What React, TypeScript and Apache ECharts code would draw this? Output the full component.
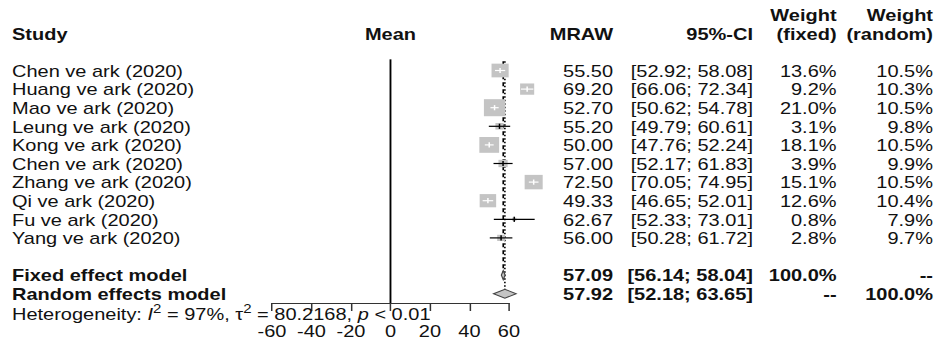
import React, { useEffect, useRef } from 'react';
import * as echarts from 'echarts';

// ---------------- data ----------------
const studies = [
  'Chen ve ark (2020)',
  'Huang ve ark (2020)',
  'Mao ve ark (2020)',
  'Leung ve ark (2020)',
  'Kong ve ark (2020)',
  'Chen ve ark (2020)',
  'Zhang ve ark (2020)',
  'Qi ve ark (2020)',
  'Fu ve ark (2020)',
  'Yang ve ark (2020)',
];
const means = [55.5, 69.2, 52.7, 55.2, 50.0, 57.0, 72.5, 49.33, 62.67, 56.0];
const lowerCI = [52.92, 66.06, 50.62, 49.79, 47.76, 52.17, 70.05, 46.65, 52.33, 50.28];
const upperCI = [58.08, 72.34, 54.78, 60.61, 52.24, 61.83, 74.95, 52.01, 73.01, 61.72];
const weightFixed = [13.6, 9.2, 21.0, 3.1, 18.1, 3.9, 15.1, 12.6, 0.8, 2.8];
const weightRandom = [10.5, 10.3, 10.5, 9.8, 10.5, 9.9, 10.5, 10.4, 7.9, 9.7];

const pooledLabels = ['Fixed effect model', 'Random effects model'];
const pooledMeans = [57.09, 57.92];
const pooledLower = [56.14, 52.18];
const pooledUpper = [58.04, 63.65];
const pooledWeightFixed = ['100.0%', '--'];
const pooledWeightRandom = ['--', '100.0%'];

const xTicks = [-60, -40, -20, 0, 20, 40, 60];

const heterogeneityI2 = 97;
const heterogeneityTau2 = 80.2168;
const heterogeneityP = '< 0.01';

// ---------------- layout ----------------
const BASE_W = 754;
const H = 345;
const SCALE = 942 / BASE_W;
const FONT = '"Liberation Sans", Arial, sans-serif';
const TXT = '#111';
const BOX = '#c4c4c4';

const studyRows = studies.map((_, i) => i);
const pooledRows = [11, 12];

const colX = { study: 9.6, mraw: 490.7, ci: 602.7, wf: 669.6, wr: 746.8 };

type TextItem = {
  row: number;
  text: string;
  x?: number;
  xCoord?: number;
  align: 'left' | 'right' | 'center';
  bold?: boolean;
  rich?: boolean;
};

const textItems: TextItem[] = [];
// headers
textItems.push({ row: -3, text: 'Weight', x: colX.wf, align: 'right', bold: true });
textItems.push({ row: -3, text: 'Weight', x: colX.wr, align: 'right', bold: true });
textItems.push({ row: -2, text: 'Study', x: colX.study, align: 'left', bold: true });
textItems.push({ row: -2, text: 'Mean', xCoord: 0, align: 'center', bold: true });
textItems.push({ row: -2, text: 'MRAW', x: colX.mraw, align: 'right', bold: true });
textItems.push({ row: -2, text: '95%-CI', x: colX.ci, align: 'right', bold: true });
textItems.push({ row: -2, text: '(fixed)', x: colX.wf, align: 'right', bold: true });
textItems.push({ row: -2, text: '(random)', x: colX.wr, align: 'right', bold: true });
// studies
studies.forEach((s, i) => {
  const r = studyRows[i];
  textItems.push({ row: r, text: s, x: colX.study, align: 'left' });
  textItems.push({ row: r, text: means[i].toFixed(2), x: colX.mraw, align: 'right' });
  textItems.push({
    row: r,
    text: `[${lowerCI[i].toFixed(2)}; ${upperCI[i].toFixed(2)}]`,
    x: colX.ci,
    align: 'right',
  });
  textItems.push({ row: r, text: weightFixed[i].toFixed(1) + '%', x: colX.wf, align: 'right' });
  textItems.push({ row: r, text: weightRandom[i].toFixed(1) + '%', x: colX.wr, align: 'right' });
});
// pooled
pooledLabels.forEach((s, i) => {
  const r = pooledRows[i];
  textItems.push({ row: r, text: s, x: colX.study, align: 'left', bold: true });
  textItems.push({ row: r, text: pooledMeans[i].toFixed(2), x: colX.mraw, align: 'right', bold: true });
  textItems.push({
    row: r,
    text: `[${pooledLower[i].toFixed(2)}; ${pooledUpper[i].toFixed(2)}]`,
    x: colX.ci,
    align: 'right',
    bold: true,
  });
  textItems.push({ row: r, text: pooledWeightFixed[i], x: colX.wf, align: 'right', bold: true });
  textItems.push({ row: r, text: pooledWeightRandom[i], x: colX.wr, align: 'right', bold: true });
});
// heterogeneity
textItems.push({
  row: 13.15,
  text: `{n|Heterogeneity: }{i|I}{s|2}{n| = ${heterogeneityI2}%, τ}{s|2}{n| = ${heterogeneityTau2}, }{i|p}{n| ${heterogeneityP}}`,
  x: colX.study,
  align: 'left',
  rich: true,
});

const studyData = studies.map((_, i) => [means[i], lowerCI[i], upperCI[i], weightFixed[i], studyRows[i]]);
const pooledData = pooledMeans.map((m, i) => [m, pooledLower[i], pooledUpper[i], pooledRows[i]]);
// [x, rowStart, rowEnd, kind]
const refLineData = [
  [0, -0.6, 12.5, 0],
  [pooledMeans[0], -0.5, pooledRows[0], 1],
  [pooledMeans[1], -0.5, pooledRows[1], 2],
];

const option: any = {
  animation: false,
  backgroundColor: '#fff',
  grid: {
    left: 217.7,
    right: BASE_W - 407.4,
    top: 59.34,
    bottom: H - 303,
    outerBoundsMode: 'none',
  },
  xAxis: {
    type: 'value',
    min: xTicks[0],
    max: xTicks[xTicks.length - 1],
    interval: xTicks[1] - xTicks[0],
    splitLine: { show: false },
    axisLine: { show: true, onZero: false, lineStyle: { color: '#333', width: 1.2 } },
    axisTick: { show: true, inside: false, length: 8, lineStyle: { color: '#333', width: 1.2 } },
    axisLabel: {
      show: true,
      color: TXT,
      fontSize: 16,
      fontFamily: FONT,
      margin: 21,
      formatter: (v: number) => String(v),
    },
  },
  yAxis: {
    type: 'value',
    inverse: true,
    min: -0.6,
    max: 12.5,
    show: false,
  },
  series: [
    {
      type: 'custom',
      name: 'reference lines',
      clip: false,
      z: 1,
      data: refLineData,
      renderItem: (params: any, api: any) => {
        const x = api.value(0);
        const r0 = api.value(1);
        const r1 = api.value(2);
        const kind = api.value(3);
        const p0 = api.coord([x, r0]);
        const p1 = api.coord([x, r1]);
        let y1 = p1[1];
        if (kind === 2) y1 -= 4.5;
        const style: any =
          kind === 0
            ? { stroke: '#000', lineWidth: 1.5 }
            : kind === 1
            ? { stroke: '#000', lineWidth: 1.3, lineDash: [4, 3] }
            : { stroke: '#000', lineWidth: 1.3, lineDash: [1.5, 2] };
        return { type: 'line', shape: { x1: p0[0], y1: p0[1], x2: p0[0], y2: y1 }, style };
      },
    },
    {
      type: 'custom',
      name: 'studies',
      clip: false,
      z: 3,
      data: studyData,
      renderItem: (params: any, api: any) => {
        const m = api.value(0);
        const lo = api.value(1);
        const hi = api.value(2);
        const w = api.value(3);
        const r = api.value(4);
        const c = api.coord([m, r]);
        const xl = api.coord([lo, r])[0];
        const xh = api.coord([hi, r])[0];
        const s = 3.72 * Math.sqrt(w);
        const inside = xl >= c[0] - s / 2 && xh <= c[0] + s / 2;
        const lc = inside ? '#fff' : '#000';
        return {
          type: 'group',
          children: [
            { type: 'rect', shape: { x: c[0] - s / 2, y: c[1] - s / 2, width: s, height: s }, style: { fill: BOX } },
            { type: 'line', shape: { x1: xl, y1: c[1], x2: xh, y2: c[1] }, style: { stroke: lc, lineWidth: 1.2 } },
            { type: 'line', shape: { x1: c[0], y1: c[1] - 2.6, x2: c[0], y2: c[1] + 2.6 }, style: { stroke: lc, lineWidth: 1.2 } },
          ],
        };
      },
    },
    {
      type: 'custom',
      name: 'pooled',
      clip: false,
      z: 3,
      data: pooledData,
      renderItem: (params: any, api: any) => {
        const m = api.value(0);
        const lo = api.value(1);
        const hi = api.value(2);
        const r = api.value(3);
        const c = api.coord([m, r]);
        const xl = api.coord([lo, r])[0];
        const xh = api.coord([hi, r])[0];
        const h = 4.5;
        return {
          type: 'polygon',
          shape: { points: [[xl, c[1]], [c[0], c[1] - h], [xh, c[1]], [c[0], c[1] + h]] },
          style: { fill: BOX, stroke: '#444', lineWidth: 1 },
        };
      },
    },
    {
      type: 'custom',
      name: 'table',
      clip: false,
      z: 4,
      silent: true,
      data: textItems.map((t) => [t.xCoord ?? 0, t.row]),
      renderItem: (params: any, api: any) => {
        const t = textItems[params.dataIndex];
        const y = api.coord([0, t.row])[1] + 1;
        const x = t.xCoord !== undefined ? api.coord([t.xCoord, t.row])[0] : (t.x as number);
        if (t.rich) {
          return {
            type: 'text',
            x,
            y: y - 3,
            style: {
              text: t.text,
              align: 'left',
              verticalAlign: 'middle',
              textAlign: 'left',
              textVerticalAlign: 'middle',
              fontSize: 16,
              fontFamily: FONT,
              fill: TXT,
              rich: {
                n: { fontSize: 16, fontFamily: FONT, fill: TXT, verticalAlign: 'bottom' },
                i: { fontSize: 16, fontFamily: FONT, fill: TXT, fontStyle: 'italic', verticalAlign: 'bottom' },
                s: { fontSize: 12, fontFamily: FONT, fill: TXT, verticalAlign: 'top', padding: [0, 0, 8, 0] },
              },
            },
          };
        }
        return {
          type: 'text',
          x,
          y,
          style: {
            text: t.text,
            align: t.align,
            verticalAlign: 'middle',
            textAlign: t.align,
            textVerticalAlign: 'middle',
            fontSize: 16,
            fontFamily: FONT,
            fontWeight: t.bold ? 'bold' : 'normal',
            fill: TXT,
          },
        };
      },
    },
  ],
};

export default function App() {
  const ref = useRef<HTMLDivElement>(null);
  useEffect(() => {
    if (!ref.current) return;
    const chart = echarts.init(ref.current, undefined, { renderer: 'svg', width: BASE_W, height: H });
    chart.setOption(option);
    return () => chart.dispose();
  }, []);
  return (
    <div
      ref={ref}
      style={{
        position: 'absolute',
        left: 0,
        top: 0,
        width: BASE_W,
        height: H,
        transform: `scaleX(${SCALE})`,
        transformOrigin: '0 0',
      }}
    />
  );
}
